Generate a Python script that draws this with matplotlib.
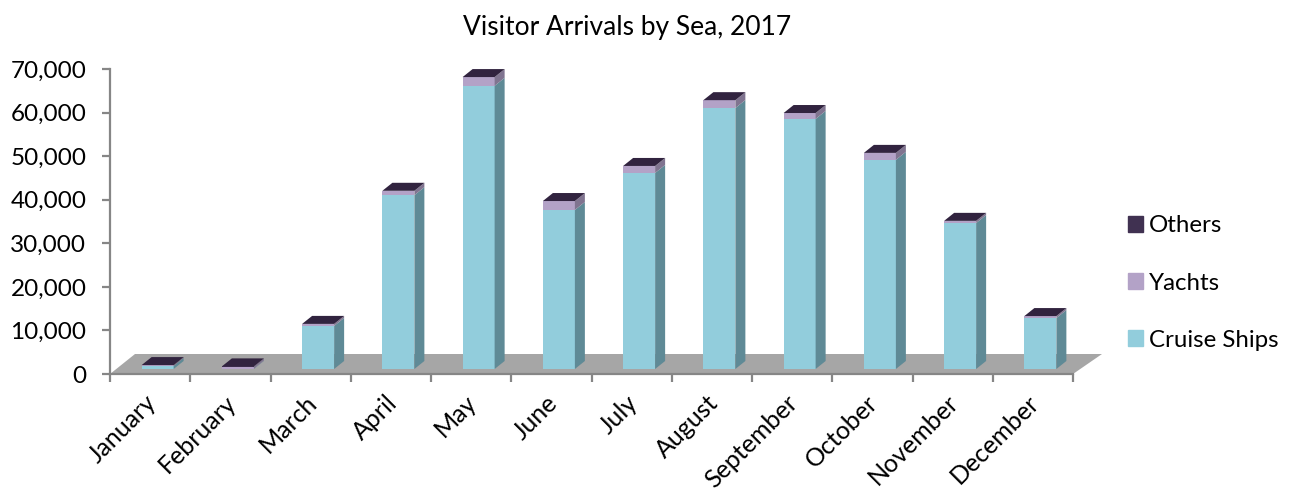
import matplotlib
matplotlib.use("Agg")
import matplotlib.pyplot as plt
from matplotlib.patches import Polygon, Patch
from matplotlib.transforms import ScaledTranslation

months = ["January", "February", "March", "April", "May", "June", "July",
          "August", "September", "October", "November", "December"]
cruise = [700, 100, 9900, 39900, 65000, 36500, 45000, 59900, 57400, 48000, 33500, 11700]
yachts = [150, 450, 400, 950, 1950, 2000, 1550, 1750, 1300, 1550, 450, 400]
others = [50, 50, 50, 50, 50, 50, 50, 50, 50, 50, 50, 50]
series_names = ["Cruise Ships", "Yachts", "Others"]
yticks = [0, 10000, 20000, 30000, 40000, 50000, 60000, 70000]

W, H = 1292, 494
AX_L, AX_R, AX_T, AX_B = 110, 1073, 69, 374

FRONT = "#92CDDC"
FRONT_Y = "#B3A2C7"
DARK = "#403151"
SIDE = "#5F8A96"
SIDE_Y = "#807490"
SIDE_O = "#3A2E4A"
TOP = "#31233F"
GREY = "#868686"
FLOOR = "#A6A6A6"

plt.rcParams["font.family"] = ["Lato", "DejaVu Sans"]

fig = plt.figure(figsize=(W / 100, H / 100), dpi=100)
ax = fig.add_axes([AX_L / W, 1 - AX_B / H, (AX_R - AX_L) / W, (AX_B - AX_T) / H])
ax.set_xlim(0, 12)
ax.set_ylim(0, 70000)

# pixel sizes to data units, the fake 3d is just offsets
px_x = 12 / (AX_R - AX_L)
px_y = 70000 / (AX_B - AX_T)
depth_x, depth_y = 10 * px_x, 8 * px_y
lift = 5 * px_y
shift = 7.5 * px_x
width = 32 * px_x

floor = Polygon([(0, 0), (12, 0), (12 + 29 * px_x, 20 * px_y), (25 * px_x, 20 * px_y)],
                closed=True, fc=FLOOR, ec="none", clip_on=False, zorder=1)
ax.add_patch(floor)

for i in range(len(months)):
    x0 = i + 0.5 + shift - width / 2
    x1 = x0 + width
    base = lift
    stack = [(cruise[i], FRONT, SIDE), (yachts[i], FRONT_Y, SIDE_Y), (others[i], DARK, SIDE_O)]
    for val, face, side in stack:
        ax.bar(x0, val, width=width, bottom=base, align="edge", color=face, lw=0, zorder=3, clip_on=False)
        ax.add_patch(Polygon([(x1, base), (x1 + depth_x, base + depth_y),
                              (x1 + depth_x, base + val + depth_y), (x1, base + val)],
                             closed=True, fc=side, ec="none", zorder=3, clip_on=False))
        base += val
    ax.add_patch(Polygon([(x0, base), (x1, base), (x1 + depth_x, base + depth_y), (x0 + depth_x, base + depth_y)],
                         closed=True, fc=TOP, ec="none", zorder=4, clip_on=False))

for s in ["top", "right"]:
    ax.spines[s].set_visible(False)
for s in ["left", "bottom"]:
    ax.spines[s].set_color(GREY)
    ax.spines[s].set_linewidth(1.6)
    ax.spines[s].set_zorder(2)

ax.set_yticks(yticks)
ax.set_yticklabels([f"{v:,}" for v in yticks], fontsize=17.5, color="black")
ax.tick_params(axis="y", length=6, width=1.6, color=GREY, pad=11)

ax.set_xticks(range(13))
ax.set_xticklabels([])
ax.tick_params(axis="x", which="major", length=6, width=1.6, color=GREY)
ax.set_xticks([i + 0.5 for i in range(12)], minor=True)
ax.set_xticklabels(months, minor=True, rotation=45, ha="right", rotation_mode="anchor",
                   fontsize=18, color="black")
ax.tick_params(axis="x", which="minor", length=0, pad=12)
nudge = ScaledTranslation(-6 / 100, 0, fig.dpi_scale_trans)
for lab in ax.get_xticklabels(minor=True):
    lab.set_transform(lab.get_transform() + nudge)

fig.text(627 / W, 1 - 28 / H, "Visitor Arrivals by Sea, 2017", ha="center", va="center",
         fontsize=19, color="black")

handles = [Patch(color=DARK), Patch(color=FRONT_Y), Patch(color=FRONT)]
labels = [series_names[2], series_names[1], series_names[0]]
fig.legend(handles, labels, loc="center left", bbox_to_anchor=(1128 / W, 1 - 283 / H),
           frameon=False, fontsize=17.3, handlelength=0.62, handleheight=0.62,
           handletextpad=0.25, labelspacing=1.5, borderpad=0, borderaxespad=0)

fig.savefig("out.png", dpi=100)
